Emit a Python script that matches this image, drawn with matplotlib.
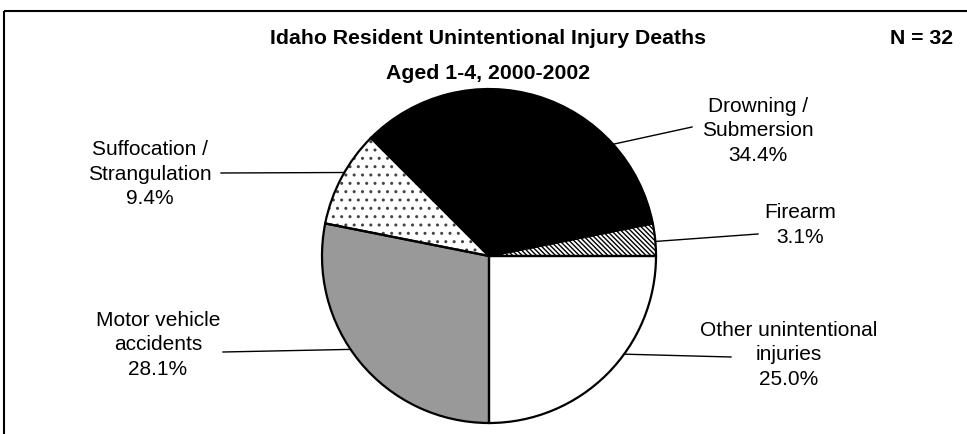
"""
Idaho unintentional injury deaths, ages 1-4 -- pie chart
"""

import numpy as np
import matplotlib
matplotlib.use("Agg")
import matplotlib.pyplot as plt

# data (counts, N = 32)
categories = ["Other unintentional\ninjuries", "Motor vehicle\naccidents",
              "Suffocation /\nStrangulation", "Drowning /\nSubmersion", "Firearm"]
counts = [8, 9, 3, 11, 1]

# styles
face_colors = ["white", "#999999", "white", "black", "white"]
hatches = [None, None, "..", None, "\\" * 7]
hatch_colors = ["black", "black", "#444444", "black", "black"]

# layout (pixel coords, y from top)
W, H = 967, 434
center_px = (489, 256)
radius = 167
anchor_angles = [-36, 214, 150, 42, 5]
text_pos = [(789, 355), (158, 345), (150, 174), (758, 131), (800, 225)]
line_end = [(731, 357), (223, 352), (221, 173), (692, 127), (758, 234)]

plt.rcParams["font.family"] = ["Liberation Sans", "DejaVu Sans"]
plt.rcParams["hatch.linewidth"] = 1.0

fig = plt.figure(figsize=(W / 100, H / 100), dpi=100)
ax = fig.add_axes([0, 0, 1, 1])

cx, cy = center_px[0], H - center_px[1]

# fills + hatches
wedges, _ = ax.pie(counts, startangle=0, counterclock=False,
                   center=(cx, cy), radius=radius, colors=face_colors,
                   wedgeprops=dict(linewidth=0))
for w, h, hc in zip(wedges, hatches, hatch_colors):
    if h:
        w.set_hatch(h)
        w.set_edgecolor(hc)

# outlines
ax.pie(counts, startangle=0, counterclock=False, center=(cx, cy),
       radius=radius, colors=["none"] * len(counts),
       wedgeprops=dict(linewidth=1.6, edgecolor="black", fill=False))

total = sum(counts)
for i, (name, n) in enumerate(zip(categories, counts)):
    a = np.deg2rad(anchor_angles[i])
    x0, y0 = cx + radius * np.cos(a), cy + radius * np.sin(a)
    x1, y1 = line_end[i][0], H - line_end[i][1]
    ax.plot([x0, x1], [y0, y1], color="black", lw=1.0)
    tx, ty = text_pos[i][0], H - text_pos[i][1]
    ax.text(tx, ty, "%s\n%.1f%%" % (name, 100.0 * n / total),
            ha="center", va="center", fontsize=15, linespacing=1.37)

ax.text(488, H - 44, "Idaho Resident Unintentional Injury Deaths",
        ha="center", va="baseline", fontsize=15.3, fontweight="bold")
ax.text(488, H - 79, "Aged 1-4, 2000-2002",
        ha="center", va="baseline", fontsize=15.3, fontweight="bold")
ax.text(922, H - 44, "N = %d" % total, ha="center", va="baseline",
        fontsize=15.3, fontweight="bold")

# frame
ax.plot([4, W], [H - 11, H - 11], color="black", lw=1.5, solid_capstyle="butt")
ax.plot([4, 4], [H - 11, 0], color="black", lw=1.5, solid_capstyle="butt")

ax.set_xlim(0, W)
ax.set_ylim(0, H)
ax.set_aspect("equal")
ax.axis("off")

fig.savefig("out.png", dpi=100)
